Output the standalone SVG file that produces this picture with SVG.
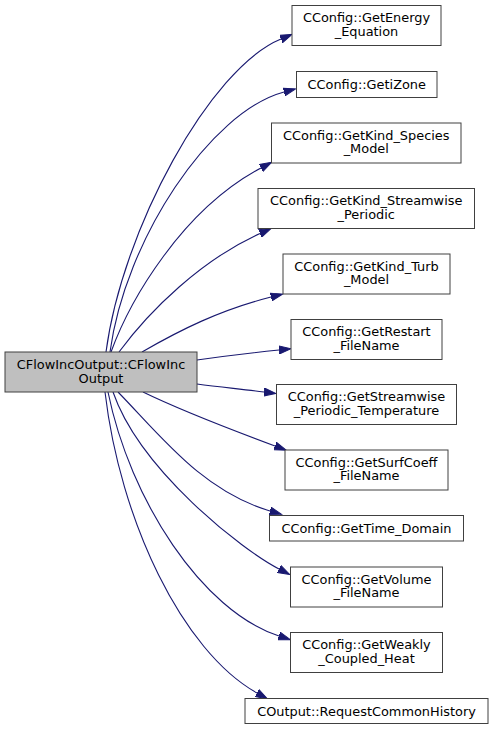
<svg xmlns="http://www.w3.org/2000/svg" width="493" height="730" viewBox="0 0 493 730">
<style>
.node rect{fill:#ffffff;stroke:#404040;stroke-width:1}
#main rect{fill:#bfbfbf;stroke:#404040}
text{font-family:"DejaVu Sans",sans-serif;font-size:12.9px;fill:#000;text-anchor:middle}
.edges path{fill:none;stroke:#191970;stroke-width:1.1;marker-end:url(#arr)}
</style>
<defs>
<marker id="arr" markerUnits="userSpaceOnUse" markerWidth="13" markerHeight="9" refX="0" refY="4.5" orient="auto">
<path d="M0,0.5 L12,4.5 L0,8.5 z" fill="#191970" stroke="#191970" stroke-width="1"/>
</marker>
</defs>
<rect width="493" height="730" fill="#ffffff"/>
<g class="edges">
<path d="M106,352 C122,230 210,68 281,39"/>
<path d="M110,352 C125,240 210,112 284,92"/>
<path d="M111,352 C130,300 182,210 261,168"/>
<path d="M119,352 C150,310 202,259.5 260,233.5"/>
<path d="M142,352 C180,330 220,310 271,297"/>
<path d="M197,360 C225,356 250,353 279,350"/>
<path d="M197,384 C220,387 240,389 264,392"/>
<path d="M143,392 C180,410 232,430 275,446"/>
<path d="M118,392 C160,435 202,491 270,511"/>
<path d="M113,392 C140,470 242,550 279,569"/>
<path d="M108,392 C130,500 202,611 279,636"/>
<path d="M105,392 C120,520 182,651 257,693"/>
</g>
<g id="main" class="node"><rect x="5" y="352" width="192" height="40"/><text x="101" y="368.8">CFlowIncOutput::CFlowInc</text><text x="101" y="382.5">Output</text></g>
<g id="n1" class="node"><rect x="292" y="5.5" width="149" height="40"/><text x="366.5" y="22">CConfig::GetEnergy</text><text x="366.5" y="35.5">_Equation</text></g>
<g id="n2" class="node"><rect x="296.5" y="71.5" width="140.5" height="26"/><text x="366.75" y="88.5">CConfig::GetiZone</text></g>
<g id="n3" class="node"><rect x="271.5" y="123" width="189.5" height="40"/><text x="366.25" y="139.5">CConfig::GetKind_Species</text><text x="366.25" y="153">_Model</text></g>
<g id="n4" class="node"><rect x="258" y="188.5" width="216.5" height="40"/><text x="366.25" y="205">CConfig::GetKind_Streamwise</text><text x="366.25" y="218.5">_Periodic</text></g>
<g id="n5" class="node"><rect x="283" y="254" width="167" height="40"/><text x="366.5" y="270.5">CConfig::GetKind_Turb</text><text x="366.5" y="284">_Model</text></g>
<g id="n6" class="node"><rect x="291" y="319.5" width="151" height="40"/><text x="366.5" y="336">CConfig::GetRestart</text><text x="366.5" y="349.5">_FileName</text></g>
<g id="n7" class="node"><rect x="276.5" y="384.5" width="180" height="40"/><text x="366.5" y="401">CConfig::GetStreamwise</text><text x="366.5" y="414.5">_Periodic_Temperature</text></g>
<g id="n8" class="node"><rect x="285" y="450" width="163" height="40"/><text x="366.5" y="466.5">CConfig::GetSurfCoeff</text><text x="366.5" y="480">_FileName</text></g>
<g id="n9" class="node"><rect x="269.5" y="515.5" width="194" height="25.5"/><text x="366.5" y="532.5">CConfig::GetTime_Domain</text></g>
<g id="n10" class="node"><rect x="290.5" y="567" width="152" height="40"/><text x="366.5" y="583.5">CConfig::GetVolume</text><text x="366.5" y="597">_FileName</text></g>
<g id="n11" class="node"><rect x="290.5" y="632.5" width="152" height="40"/><text x="366.5" y="649">CConfig::GetWeakly</text><text x="366.5" y="662.5">_Coupled_Heat</text></g>
<g id="n12" class="node"><rect x="245" y="698.5" width="243" height="25"/><text x="366.5" y="715.5">COutput::RequestCommonHistory</text></g>
</svg>
